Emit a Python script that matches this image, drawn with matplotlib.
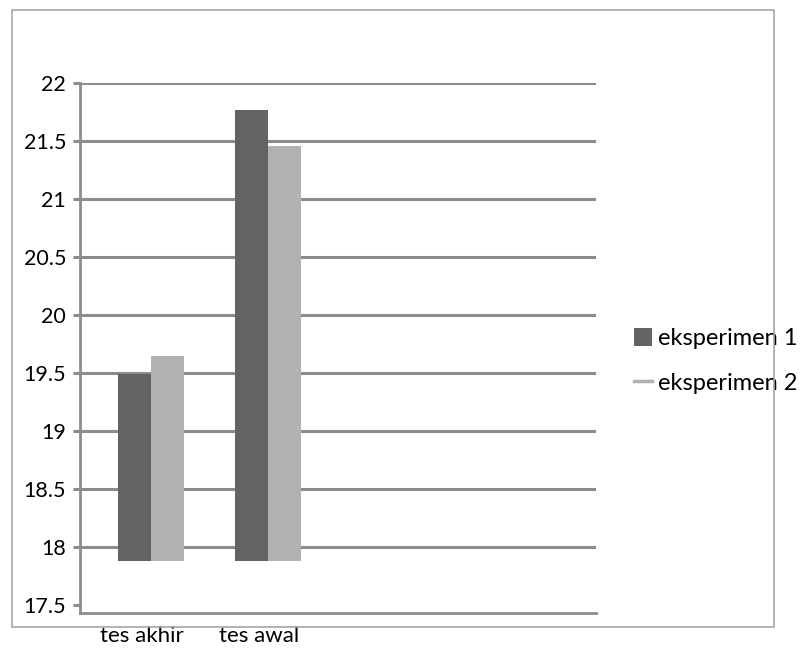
import matplotlib
matplotlib.use("Agg")
import matplotlib.pyplot as plt
import numpy as np
from matplotlib.patches import Rectangle, Patch
from matplotlib.lines import Line2D

categories = ["tes akhir", "tes awal"]
eksperimen_1 = [19.49, 21.77]
eksperimen_2 = [19.65, 21.46]
series_names = ["eksperimen 1", "eksperimen 2"]
y_ticks = [17.5, 18, 18.5, 19, 19.5, 20, 20.5, 21, 21.5, 22]

bar_base = 17.88
dark = "#636363"
light = "#b2b2b2"
grid_gray = "#8c8c8c"

plt.rcParams["font.family"] = ["Lato", "DejaVu Sans"]

W, H = 802, 648
fig = plt.figure(figsize=(W / 100, H / 100), dpi=100)

# outer chart border
fig.patches.append(Rectangle((12 / W, 1 - 627 / H), (774 - 12) / W, (627 - 10) / H,
                             transform=fig.transFigure, fill=False,
                             edgecolor="#a6a6a6", linewidth=1.2))

ax = fig.add_axes([80 / W, 1 - 613 / H, (596 - 80) / W, (613 - 83) / H])

x = np.arange(len(categories))
w = 0.28
ax.bar(x - w / 2, np.array(eksperimen_1) - bar_base, w, bottom=bar_base,
       color=dark, zorder=3)
ax.bar(x + w / 2, np.array(eksperimen_2) - bar_base, w, bottom=bar_base,
       color=light, zorder=3)

for t in y_ticks[1:]:
    ax.axhline(t, color=grid_gray, linewidth=2.2, zorder=2)

ax.set_ylim(17.431, 22)
ax.set_xlim(-0.607, 3.80)
ax.set_yticks(y_ticks)
ax.set_yticklabels([f"{t:g}" for t in y_ticks])
ax.set_xticks(x - 0.08)
ax.set_xticklabels(categories)

for s in ["top", "right"]:
    ax.spines[s].set_visible(False)
for s in ["left", "bottom"]:
    ax.spines[s].set_color(grid_gray)
    ax.spines[s].set_linewidth(2.0)

ax.tick_params(axis="y", length=5, width=2.2, color=grid_gray, labelsize=15.5, pad=5)
ax.tick_params(axis="x", length=0, labelsize=16, pad=9)

handles = [Patch(facecolor=dark, edgecolor="none"),
           Line2D([0], [0], color=light, linewidth=2.5)]
leg = ax.legend(handles, series_names, loc="center left",
                bbox_to_anchor=(634 / W, 1 - 361 / H), bbox_transform=fig.transFigure,
                frameon=False, fontsize=17, handlelength=0.75, handleheight=0.8,
                handletextpad=0.25, labelspacing=1.0, borderaxespad=0, borderpad=0)

fig.savefig("out.png", dpi=100)
